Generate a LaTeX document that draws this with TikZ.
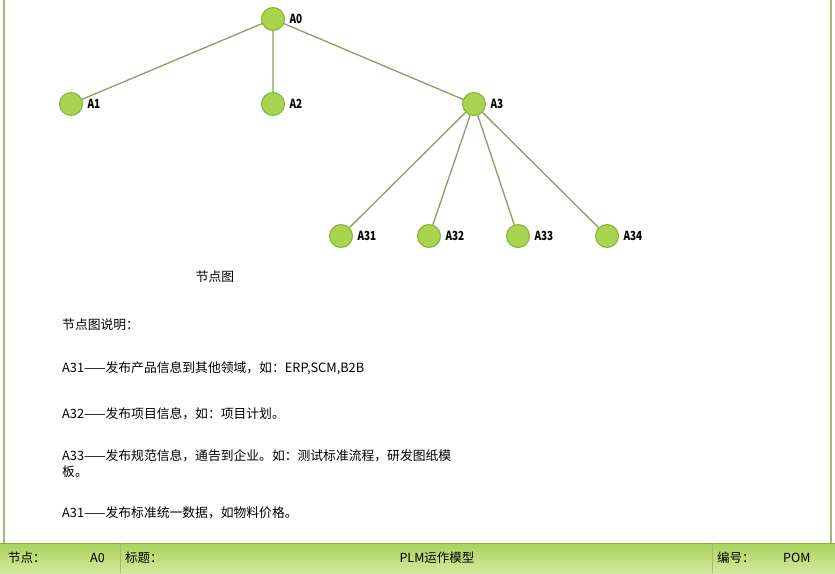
\documentclass[tikz,border=0pt]{standalone}
\usepackage{fontspec}
\setmainfont{Noto Sans CJK SC}
\newfontfamily\narrowfont{Noto Sans CJK SC}[FakeStretch=0.8]
\usepackage{tikz}
\definecolor{nodefill}{HTML}{A8D44E}
\definecolor{nodeline}{HTML}{86B03A}
\definecolor{edgecol}{HTML}{8C9E62}
\definecolor{framecol}{HTML}{A6B87A}
\definecolor{bartop}{HTML}{A9D35A}
\definecolor{barbot}{HTML}{D3E9A0}

\begin{document}
\begin{tikzpicture}[x=1pt,y=-1pt,
		pnode/.style={circle,draw=nodeline,fill=nodefill,line width=1pt,minimum size=23pt,inner sep=0pt,
			label={[font=\narrowfont\bfseries\fontsize{12.5}{12}\selectfont,label distance=1pt]right:#1}},
		note/.style={anchor=west,font=\fontsize{12.8}{16}\selectfont,inner sep=0pt},
		bartext/.style={anchor=west,font=\fontsize{12.5}{13}\selectfont,inner sep=0pt}]
		\useasboundingbox (0,0) rectangle (835,573);
		% frame and title bar
		\draw[framecol,line width=1.2pt] (4,0) -- (4,543) (831,0) -- (831,543);
		\shade[top color=bartop,bottom color=barbot] (0,543) rectangle (835,573);
		\draw[nodeline,line width=1pt] (0,543) -- (835,543);
		\draw[framecol,line width=0.8pt] (120,543) -- (120,573) (712,543) -- (712,573);
		% nodes
		\node[pnode=A0] (a0) at (273,19) {};
		\node[pnode=A1] (a1) at (71,104) {};
		\node[pnode=A2] (a2) at (273,104) {};
		\node[pnode=A3] (a3) at (474,104) {};
		\node[pnode=A31] (a31) at (341,236) {};
		\node[pnode=A32] (a32) at (429,236) {};
		\node[pnode=A33] (a33) at (518,236) {};
		\node[pnode=A34] (a34) at (607,236) {};
		\draw[edgecol,line width=1.3pt]
		(a0) -- (a1) (a0) -- (a2) (a0) -- (a3)
		(a3) -- (a31) (a3) -- (a32) (a3) -- (a33) (a3) -- (a34)
		;
		% texts
		\node[note,anchor=center] (title) at (215,277) {节点图};
		\node[note] (head) at (62,325) {节点图说明：};
		\node[note] (d1) at (62,368) {A31——发布产品信息到其他领域，如：ERP,SCM,B2B};
		\node[note] (d2) at (62,414) {A32——发布项目信息，如：项目计划。};
		\node[note,anchor=north west,align=left] (d3) at (62,449) {A33——发布规范信息，通告到企业。如：测试标准流程，研发图纸模\\板。};
		\node[note] (d4) at (62,513) {A31——发布标准统一数据，如物料价格。};
		\node[bartext] (k1) at (8,558) {节点：};
		\node[bartext] (k2) at (90,558) {A0};
		\node[bartext] (k3) at (125,558) {标题：};
		\node[bartext,anchor=center] (k4) at (437,558) {PLM运作模型};
		\node[bartext] (k5) at (717,558) {编号：};
		\node[bartext] (k6) at (783,558) {POM};
	\end{tikzpicture}
\end{document}
